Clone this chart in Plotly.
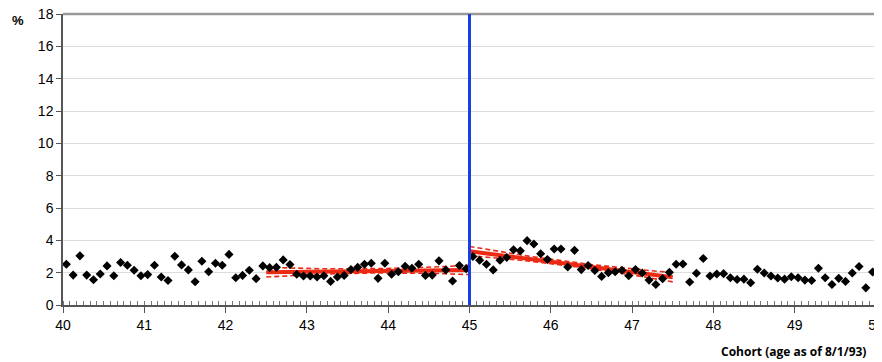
import numpy as np
import plotly.graph_objects as go

# Monthly cohort share (%) — 120 points, 40 to 50
cohort = [40 + (k + 0.5) / 12 for k in range(120)]
share = [
    2.52, 1.85, 3.04, 1.85, 1.56, 1.92, 2.42, 1.81, 2.63, 2.46, 2.15, 1.81,
    1.88, 2.46, 1.73, 1.52, 3.02, 2.48, 2.17, 1.44, 2.71, 2.06, 2.58, 2.46,
    3.13, 1.69, 1.83, 2.15, 1.63, 2.42, 2.31, 2.33, 2.79, 2.50, 1.90, 1.79,
    1.79, 1.73, 1.81, 1.46, 1.73, 1.83, 2.19, 2.33, 2.52, 2.58, 1.65, 2.58,
    1.90, 2.06, 2.40, 2.27, 2.52, 1.83, 1.85, 2.73, 2.17, 1.48, 2.44, 2.25,
    3.00, 2.77, 2.52, 2.17, 2.77, 2.94, 3.42, 3.35, 3.98, 3.77, 3.17, 2.81,
    3.46, 3.46, 2.35, 3.38, 2.19, 2.44, 2.13, 1.77, 2.00, 2.06, 2.15, 1.81,
    2.19, 1.98, 1.54, 1.27, 1.63, 2.02, 2.52, 2.54, 1.42, 1.96, 2.88, 1.79,
    1.92, 1.94, 1.69, 1.58, 1.60, 1.38, 2.21, 1.98, 1.79, 1.67, 1.60, 1.75,
    1.69, 1.54, 1.52, 2.27, 1.69, 1.27, 1.65, 1.46, 1.98, 2.38, 1.06, 2.04,
]

# Local linear fits with confidence bands
left_x = [42.5, 43.75, 45.0]
left_fit = [2.03, 2.10, 2.17]
left_hi = [2.33, 2.24, 2.46]
left_lo = [1.73, 1.98, 1.88]

right_x = [45.0, 46.25, 47.5]
right_fit = [3.32, 2.53, 1.72]
right_hi = [3.62, 2.66, 2.01]
right_lo = [3.05, 2.41, 1.43]

cutoff = 45
y_ticks = list(range(0, 19, 2))
x_ticks = list(range(40, 51))

RED = "#ec2a14"
fig = go.Figure()

for xs, fit, hi, lo in [(left_x, left_fit, left_hi, left_lo),
                        (right_x, right_fit, right_hi, right_lo)]:
    xx = np.linspace(xs[0], xs[-1], 40)
    for arr in (hi, lo):
        c = np.polyfit(xs, arr, 2)
        fig.add_trace(go.Scatter(x=xx, y=np.polyval(c, xx), mode="lines",
                                 line=dict(color=RED, width=1.6, dash="5px,3px"),
                                 hoverinfo="skip", showlegend=False))
    fig.add_trace(go.Scatter(x=xs, y=fit, mode="lines",
                             line=dict(color=RED, width=4),
                             hoverinfo="skip", showlegend=False))

fig.add_trace(go.Scatter(x=cohort, y=share, mode="markers",
                         marker=dict(symbol="diamond", size=7, color="black"),
                         showlegend=False))

fig.update_layout(
    width=874, height=354,
    margin=dict(l=55, r=6, t=6, b=57, autoexpand=False),
    paper_bgcolor="white", plot_bgcolor="white",
    font=dict(family="Liberation Sans, Arial", size=14, color="black"),
    xaxis=dict(range=[40, 50], tickvals=x_ticks, ticktext=[str(v) for v in x_ticks],
               showgrid=False, zeroline=False, ticklabeloverflow="allow",
               showline=True, linecolor="#555", linewidth=1.5, mirror=False,
               ticks="outside", ticklen=6, tickcolor="#555",
               minor=dict(ticks="inside", dtick=1/12, tick0=40, ticklen=4,
                          tickcolor="#777", showgrid=False)),
    yaxis=dict(range=[0, 18], tickvals=y_ticks, showgrid=True, gridcolor="#dddddd",
               gridwidth=1, zeroline=False, ticklabeloverflow="allow",
               showline=True, linecolor="#555", linewidth=1.5,
               ticks="outside", ticklen=5, tickcolor="#555"),
)

# frame top/right in gray
fig.add_shape(type="line", xref="paper", yref="paper", x0=0, x1=1, y0=1, y1=1,
              line=dict(color="#9a9a9a", width=2.5))
fig.add_shape(type="line", xref="paper", yref="paper", x0=1, x1=1, y0=0, y1=1,
              line=dict(color="#9a9a9a", width=2.5))
fig.add_shape(type="line", x0=cutoff, x1=cutoff, y0=0, y1=18, xref="x", yref="y",
              line=dict(color="#1c3de0", width=3))

fig.add_annotation(text="<b>%</b>", xref="paper", yref="paper", x=-0.055, y=0.979,
                   xanchor="center", yanchor="middle", showarrow=False,
                   font=dict(size=13))
fig.add_annotation(text="<b>Cohort (age as of 8/1/93)</b>", xref="paper", yref="paper",
                   x=0.99, y=-0.1615, xanchor="right", yanchor="middle",
                   showarrow=False, font=dict(size=12, family="Open Sans"))

fig.write_html("out.html")
